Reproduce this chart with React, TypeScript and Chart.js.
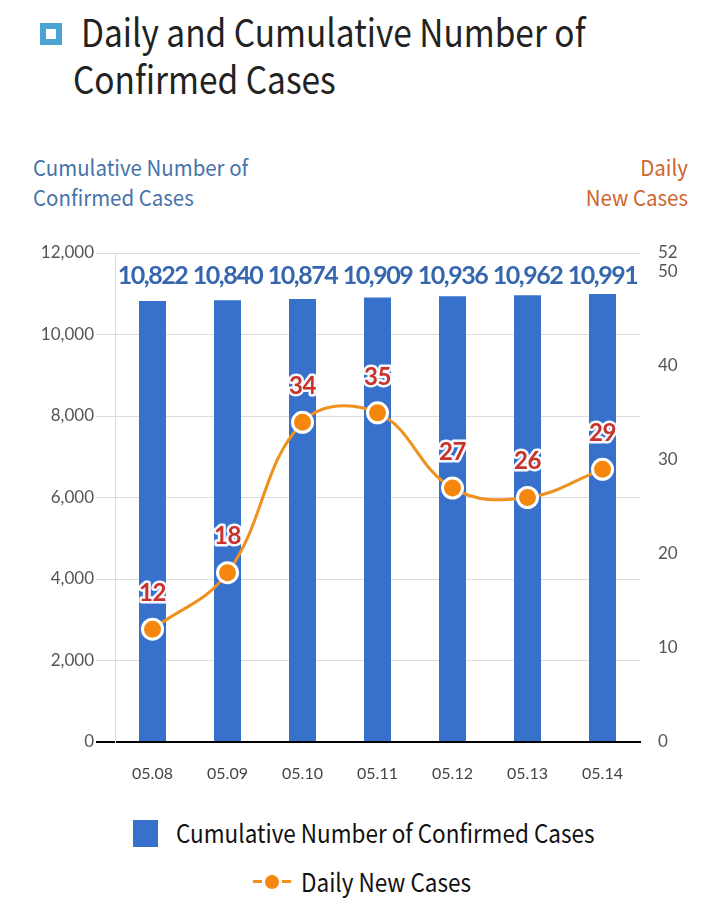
import React, { useEffect, useRef } from 'react';
import { Chart, registerables } from 'chart.js';

Chart.register(...registerables);

const dates = ['05.08', '05.09', '05.10', '05.11', '05.12', '05.13', '05.14'];
const cumulative = [10822, 10840, 10874, 10909, 10936, 10962, 10991];
const daily = [12, 18, 34, 35, 27, 26, 29];
const leftTicks = [0, 2000, 4000, 6000, 8000, 10000, 12000];
const rightTicks = [0, 10, 20, 30, 40, 50, 52];

const BAR_COLOR = '#3871CC';
const LINE_COLOR = '#F0901E';
const POINT_COLOR = '#F5870F';
const BAR_LABEL_COLOR = '#3566AE';
const LINE_LABEL_COLOR = '#C8322B';
const CJK = '"Noto Sans CJK KR", "Noto Sans", sans-serif';

const labelPlugin = {
  id: 'valueLabels',
  afterDatasetsDraw(chart: any) {
    const ctx = chart.ctx;
    const area = chart.chartArea;
    ctx.save();
    const barMeta = chart.getDatasetMeta(0);
    ctx.font = 'bold 25px Lato, sans-serif';
    (ctx as any).letterSpacing = '-1.5px';
    ctx.textAlign = 'center';
    ctx.textBaseline = 'middle';
    ctx.fillStyle = BAR_LABEL_COLOR;
    barMeta.data.forEach((el: any, i: number) => {
      ctx.fillText(cumulative[i].toLocaleString('en-US'), el.x, area.top + 23);
    });
    const lineMeta = chart.getDatasetMeta(1);
    ctx.font = 'bold 24px Lato, sans-serif';
    (ctx as any).letterSpacing = '-0.5px';
    ctx.lineJoin = 'round';
    lineMeta.data.forEach((el: any, i: number) => {
      const t = String(daily[i]);
      ctx.strokeStyle = 'rgba(255,255,255,0.95)';
      ctx.lineWidth = 5;
      ctx.strokeText(t, el.x, el.y - 36);
      ctx.fillStyle = LINE_LABEL_COLOR;
      ctx.fillText(t, el.x, el.y - 36);
    });
    ctx.restore();
  },
};

function ChartCanvas() {
  const ref = useRef<HTMLCanvasElement | null>(null);
  useEffect(() => {
    if (!ref.current) return;
    const chart = new Chart(ref.current, {
      type: 'bar',
      data: {
        labels: dates,
        datasets: [
          {
            type: 'bar',
            label: 'Cumulative Number of Confirmed Cases',
            data: cumulative,
            backgroundColor: BAR_COLOR,
            yAxisID: 'y',
            barPercentage: 0.36,
            categoryPercentage: 1,
            order: 1,
          },
          {
            type: 'line',
            label: 'Daily New Cases',
            data: daily,
            yAxisID: 'y1',
            borderColor: LINE_COLOR,
            borderWidth: 3,
            tension: 0.4,
            pointRadius: 10,
            pointBorderWidth: 3,
            pointBorderColor: '#ffffff',
            pointBackgroundColor: POINT_COLOR,
            order: 0,
          } as any,
        ],
      },
      options: {
        animation: false,
        responsive: false,
        devicePixelRatio: 1,
        layout: { padding: { top: 23, left: 0, right: 0, bottom: 0 } },
        plugins: {
          legend: { display: false },
          tooltip: { enabled: false },
        },
        scales: {
          x: {
            grid: { display: false, drawTicks: false },
            border: { display: true, color: '#000000', width: 2 },
            ticks: {
              padding: 22,
              color: '#444444',
              font: { family: 'Lato, sans-serif', size: 16 },
            },
            afterFit: (s: any) => {
              s.height = 68;
            },
          },
          y: {
            position: 'left',
            min: 0,
            max: 12000,
            afterBuildTicks: (s: any) => {
              s.ticks = leftTicks.map((v) => ({ value: v }));
            },
            grid: {
              color: (c: any) => (c.tick && c.tick.value === 0 ? '#000000' : '#DCDCDC'),
              lineWidth: (c: any) => (c.tick && c.tick.value === 0 ? 2 : 1),
              tickLength: 19,
              drawTicks: true,
            },
            border: { display: true, color: '#DCDCDC', width: 1 },
            ticks: {
              autoSkip: false,
              padding: 2,
              color: '#555555',
              font: { family: 'Lato, sans-serif', size: 17 },
              callback: (v: any) => Number(v).toLocaleString('en-US'),
            },
            afterFit: (s: any) => {
              s.width = 115;
            },
          },
          y1: {
            position: 'right',
            min: 0,
            max: 52,
            afterBuildTicks: (s: any) => {
              s.ticks = rightTicks.map((v) => ({ value: v }));
            },
            grid: { display: false, drawTicks: true, tickLength: 18, tickColor: 'rgba(0,0,0,0)' },
            border: { display: false },
            ticks: {
              autoSkip: false,
              padding: 0,
              color: '#555555',
              font: { family: 'Lato, sans-serif', size: 17 },
            },
            afterFit: (s: any) => {
              s.width = 80;
            },
          },
        },
      },
      plugins: [labelPlugin],
    });
    return () => chart.destroy();
  }, []);
  return <canvas ref={ref} width={720} height={580} style={{ display: 'block', width: 720, height: 580 }} />;
}

export default function App() {
  const abs = (o: React.CSSProperties): React.CSSProperties => ({ position: 'absolute', ...o });
  return (
    <div style={abs({ left: 0, top: 0, width: 720, height: 913, background: '#ffffff', overflow: 'hidden', fontFamily: CJK })}>
      <div
        style={abs({
          left: 40,
          top: 23,
          width: 22,
          height: 22,
          boxSizing: 'border-box',
          border: '6px solid #4BA3D3',
          background: '#ffffff',
        })}
      />
      <div
        style={abs({
          left: 73,
          top: 7,
          fontSize: 38,
          lineHeight: '47px',
          fontWeight: 400,
          color: '#222222',
          whiteSpace: 'nowrap',
          transform: 'scaleX(0.88)',
          transformOrigin: 'left top',
        })}
      >
        <div style={{ paddingLeft: 9 }}>Daily and Cumulative Number of</div>
        <div>Confirmed Cases</div>
      </div>
      <div
        style={abs({
          left: 33,
          top: 151,
          fontSize: 22,
          lineHeight: '30px',
          color: '#4773AA',
          whiteSpace: 'nowrap',
          transform: 'scaleX(0.93)',
          transformOrigin: 'left top',
        })}
      >
        <div>Cumulative Number of</div>
        <div>Confirmed Cases</div>
      </div>
      <div
        style={abs({
          right: 32,
          top: 151,
          fontSize: 22,
          lineHeight: '30px',
          color: '#D0642E',
          textAlign: 'right',
          whiteSpace: 'nowrap',
          transform: 'scaleX(0.93)',
          transformOrigin: 'right top',
        })}
      >
        <div>Daily</div>
        <div>New Cases</div>
      </div>
      <div style={abs({ left: 0, top: 230, width: 720, height: 580 })}>
        <ChartCanvas />
      </div>
      <div style={abs({ left: 133, top: 820, width: 25, height: 27, background: BAR_COLOR })} />
      <div
        style={abs({
          left: 176,
          top: 817,
          fontSize: 25,
          lineHeight: '30px',
          color: '#111111',
          whiteSpace: 'nowrap',
          transform: 'scaleX(0.9)',
          transformOrigin: 'left top',
        })}
      >
        Cumulative Number of Confirmed Cases
      </div>
      <div style={abs({ left: 253, top: 880, width: 38, height: 3 })}>
        <div style={abs({ left: 0, top: 0, width: 9, height: 3, background: LINE_COLOR })} />
        <div style={abs({ left: 29, top: 0, width: 9, height: 3, background: LINE_COLOR })} />
        <div style={abs({ left: 12, top: -5, width: 14, height: 14, borderRadius: '50%', background: POINT_COLOR })} />
      </div>
      <div
        style={abs({
          left: 301,
          top: 866,
          fontSize: 25,
          lineHeight: '30px',
          color: '#111111',
          whiteSpace: 'nowrap',
          transform: 'scaleX(0.9)',
          transformOrigin: 'left top',
        })}
      >
        Daily New Cases
      </div>
    </div>
  );
}
